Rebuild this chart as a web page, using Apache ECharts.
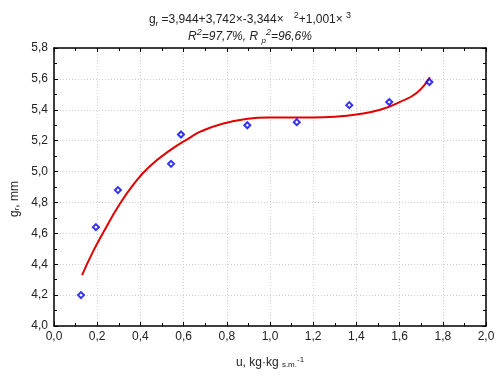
<!DOCTYPE html>
<html>
<head>
<meta charset="utf-8">
<script src="https://cdn.jsdelivr.net/npm/echarts@6/dist/echarts.min.js"></script>
<style>
  html, body { margin: 0; padding: 0; background: #fff; }
  #chart { width: 500px; height: 378px; }
</style>
</head>
<body>
<div id="chart"></div>
<script>
// measured points
var pointX = [0.125, 0.194, 0.296, 0.542, 0.588, 0.895, 1.124, 1.367, 1.552, 1.738];
var pointY = [4.20, 4.64, 4.88, 5.05, 5.24, 5.30, 5.32, 5.43, 5.45, 5.58];
// fitted curve
var curveX = [0.13, 0.18, 0.23, 0.30, 0.37, 0.44, 0.54, 0.63, 0.68, 0.78, 0.89, 0.99, 1.10, 1.20, 1.30, 1.40, 1.51, 1.60, 1.68, 1.74];
var curveY = [4.33, 4.48, 4.61, 4.78, 4.92, 5.03, 5.14, 5.22, 5.26, 5.31, 5.34, 5.35, 5.35, 5.35, 5.355, 5.37, 5.40, 5.45, 5.51, 5.61];

var font = 'Liberation Sans, Arial, sans-serif';
function fmt(v) { return v.toFixed(1).replace('.', ','); }

var points = pointX.map(function (x, i) { return [x, pointY[i]]; });
var curve = curveX.map(function (x, i) { return [x, curveY[i]]; });

var frame = { show: true, onZero: false, lineStyle: { color: '#000', width: 1.5 } };
var ticks = { show: true, inside: true, length: 4, lineStyle: { color: '#000' } };
var minor = { show: true, splitNumber: 2, length: 3, lineStyle: { color: '#000' } };
var grid = { show: true, lineStyle: { color: '#d0d0d0', type: [1, 2], width: 1 } };

var chart = echarts.init(document.getElementById('chart'));
chart.setOption({
  animation: false,
  title: {
    left: 'center',
    top: 6,
    text: 'g{sub|r} =3,944+3,742×-3,344×   {sup|2}+1,001× {sup|3}\n{i|R}{isup|2}{i|=97,7%, R }{isub|p}{isup|2}{i|=96,6%}',
    textStyle: {
      fontFamily: font, fontSize: 12, fontWeight: 'normal', color: '#222', lineHeight: 17,
      rich: {
        sub: { fontFamily: font, fontSize: 8, verticalAlign: 'bottom', lineHeight: 17, padding: [4, 0, 0, 0] },
        sup: { fontFamily: font, fontSize: 9, verticalAlign: 'top', lineHeight: 17 },
        i: { fontFamily: font, fontSize: 12, fontStyle: 'italic', color: '#222' },
        isub: { fontFamily: font, fontSize: 8, fontStyle: 'italic', verticalAlign: 'bottom', padding: [4, 0, 0, 0] },
        isup: { fontFamily: font, fontSize: 9, fontStyle: 'italic', verticalAlign: 'top' }
      }
    }
  },
  grid: { left: 54, right: 14, top: 48, bottom: 52 },
  xAxis: [{
    type: 'value', min: 0, max: 2, interval: 0.2, position: 'bottom',
    axisLine: frame, axisTick: ticks, minorTick: minor, splitLine: grid,
    axisLabel: { formatter: fmt, fontFamily: font, fontSize: 12, color: '#222', margin: 5 },
    name: 'u, kg·kg {sub|s.m.}{sup|-1}',
    nameLocation: 'middle', nameGap: 30,
    nameTextStyle: {
      fontFamily: font, fontSize: 12, color: '#222',
      rich: {
        sub: { fontFamily: font, fontSize: 8, color: '#222', verticalAlign: 'bottom', padding: [5, 0, 0, 0] },
        sup: { fontFamily: font, fontSize: 8, color: '#222', verticalAlign: 'top' }
      }
    }
  }, {
    type: 'value', min: 0, max: 2, interval: 0.2, position: 'top',
    axisLine: frame, axisTick: ticks, minorTick: minor, splitLine: { show: false },
    axisLabel: { show: false }
  }],
  yAxis: [{
    type: 'value', min: 4, max: 5.8, interval: 0.2, position: 'left',
    axisLine: frame, axisTick: ticks, minorTick: minor, splitLine: grid,
    axisLabel: { formatter: fmt, fontFamily: font, fontSize: 12, color: '#222', margin: 6 },
    name: 'g{sub|r}, mm',
    nameLocation: 'middle', nameGap: 33,
    nameTextStyle: {
      fontFamily: font, fontSize: 12, color: '#222', padding: [0, 0, 0, -24],
      rich: {
        sub: { fontFamily: font, fontSize: 8, color: '#222', verticalAlign: 'bottom', padding: [4, 0, 0, 0] }
      }
    }
  }, {
    type: 'value', min: 4, max: 5.8, interval: 0.2, position: 'right',
    axisLine: frame, axisTick: ticks, minorTick: minor, splitLine: { show: false },
    axisLabel: { show: false }
  }],
  series: [{
    type: 'line',
    data: curve,
    smooth: true,
    showSymbol: false,
    lineStyle: { color: '#e00000', width: 2 },
    z: 3
  }, {
    type: 'scatter',
    data: points,
    symbol: 'emptyDiamond',
    symbolSize: 6,
    itemStyle: { color: '#0000ee', borderColor: '#0000ee', borderWidth: 1.3 },
    z: 4
  }]
});
</script>
</body>
</html>
